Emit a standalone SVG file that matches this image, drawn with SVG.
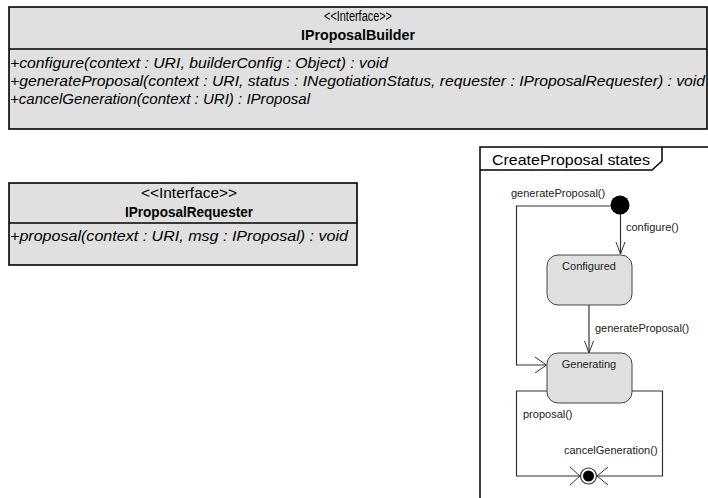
<svg xmlns="http://www.w3.org/2000/svg" width="708" height="498" viewBox="0 0 708 498">
<style>
.box{fill:#e0e0e0;stroke:#000;stroke-width:1.6}
.div{stroke:#000;stroke-width:1.3}
.t{font-family:"Liberation Sans",Arial,sans-serif;fill:#000}
.hdr{font-size:14px;text-anchor:middle}
.nm{font-size:14px;font-weight:bold;text-anchor:middle}
.op{font-size:14px;font-style:italic}
.st{fill:#e0e0e0;stroke:#444;stroke-width:1}
.sl{font-size:11px;fill:#222}
.ln{fill:none;stroke:#333;stroke-width:1.2}
.ah{fill:none;stroke:#333;stroke-width:1}
</style>
<rect width="708" height="498" fill="#fff"/>
<g id="IProposalBuilder">
<rect class="box" x="9" y="7" width="698" height="122"/>
<line class="div" x1="9" y1="49" x2="707" y2="49"/>
<text class="t hdr" x="358" y="21" textLength="68" lengthAdjust="spacingAndGlyphs">&lt;&lt;Interface&gt;&gt;</text>
<text class="t nm" x="358" y="40" textLength="114" lengthAdjust="spacingAndGlyphs">IProposalBuilder</text>
<text class="t op" x="10" y="68" textLength="378" lengthAdjust="spacingAndGlyphs">+configure(context : URI, builderConfig : Object) : void</text>
<text class="t op" x="10" y="86" textLength="695" lengthAdjust="spacingAndGlyphs">+generateProposal(context : URI, status : INegotiationStatus, requester : IProposalRequester) : void</text>
<text class="t op" x="10" y="104" textLength="300" lengthAdjust="spacingAndGlyphs">+cancelGeneration(context : URI) : IProposal</text>
</g>
<g id="IProposalRequester">
<rect class="box" x="9" y="183" width="348" height="82"/>
<line class="div" x1="9" y1="223" x2="357" y2="223"/>
<text class="t hdr" x="189" y="198" textLength="96" lengthAdjust="spacingAndGlyphs">&lt;&lt;Interface&gt;&gt;</text>
<text class="t nm" x="189" y="217" textLength="128" lengthAdjust="spacingAndGlyphs">IProposalRequester</text>
<text class="t op" x="10" y="241" textLength="338" lengthAdjust="spacingAndGlyphs">+proposal(context : URI, msg : IProposal) : void</text>
</g>
<g id="frame">
<path d="M480,498 V147 H720" fill="none" stroke="#000" stroke-width="1.5"/>
<path d="M480,170 H652 L662,161 V147" fill="none" stroke="#000" stroke-width="1.5"/>
<text class="t" x="492" y="165" font-size="15" textLength="158" lengthAdjust="spacingAndGlyphs">CreateProposal states</text>
</g>
<g id="initial">
<circle cx="620" cy="205" r="9.5" fill="#000"/>
</g>
<g id="Configured">
<rect class="st" x="547" y="255" width="85" height="50" rx="11"/>
<text class="t sl" x="589" y="270" text-anchor="middle">Configured</text>
</g>
<g id="Generating">
<rect class="st" x="547" y="353" width="85" height="50" rx="11"/>
<text class="t sl" x="589" y="368" text-anchor="middle">Generating</text>
</g>
<g id="final">
<circle cx="588.5" cy="476" r="8" fill="#fff" stroke="#333" stroke-width="1.2"/>
<circle cx="588.5" cy="476" r="5.5" fill="#000"/>
</g>
<g id="connectors">
<path class="ln" d="M620.5,214 V254"/>
<path class="ah" d="M616,242 L620.5,254 L625,242"/>
<text class="t sl" x="626" y="231">configure()</text>
<path class="ln" d="M611,206 H516.5 V365 H546"/>
<path class="ah" d="M535,357 L546.5,365 L535,373"/>
<text class="t sl" x="511" y="197">generateProposal()</text>
<path class="ln" d="M589,305 V352"/>
<path class="ah" d="M584.5,341 L589,353 L593.5,341"/>
<text class="t sl" x="595" y="332">generateProposal()</text>
<path class="ln" d="M547,391 H516.5 V476 H580"/>
<path class="ah" d="M570,467 L580,476 L570,485"/>
<path class="ln" d="M632,391 H662.5 V476 H597"/>
<path class="ah" d="M608,467 L597,476 L608,485"/>
<text class="t sl" x="523" y="418">proposal()</text>
<text class="t sl" x="564" y="454">cancelGeneration()</text>
</g>
</svg>
